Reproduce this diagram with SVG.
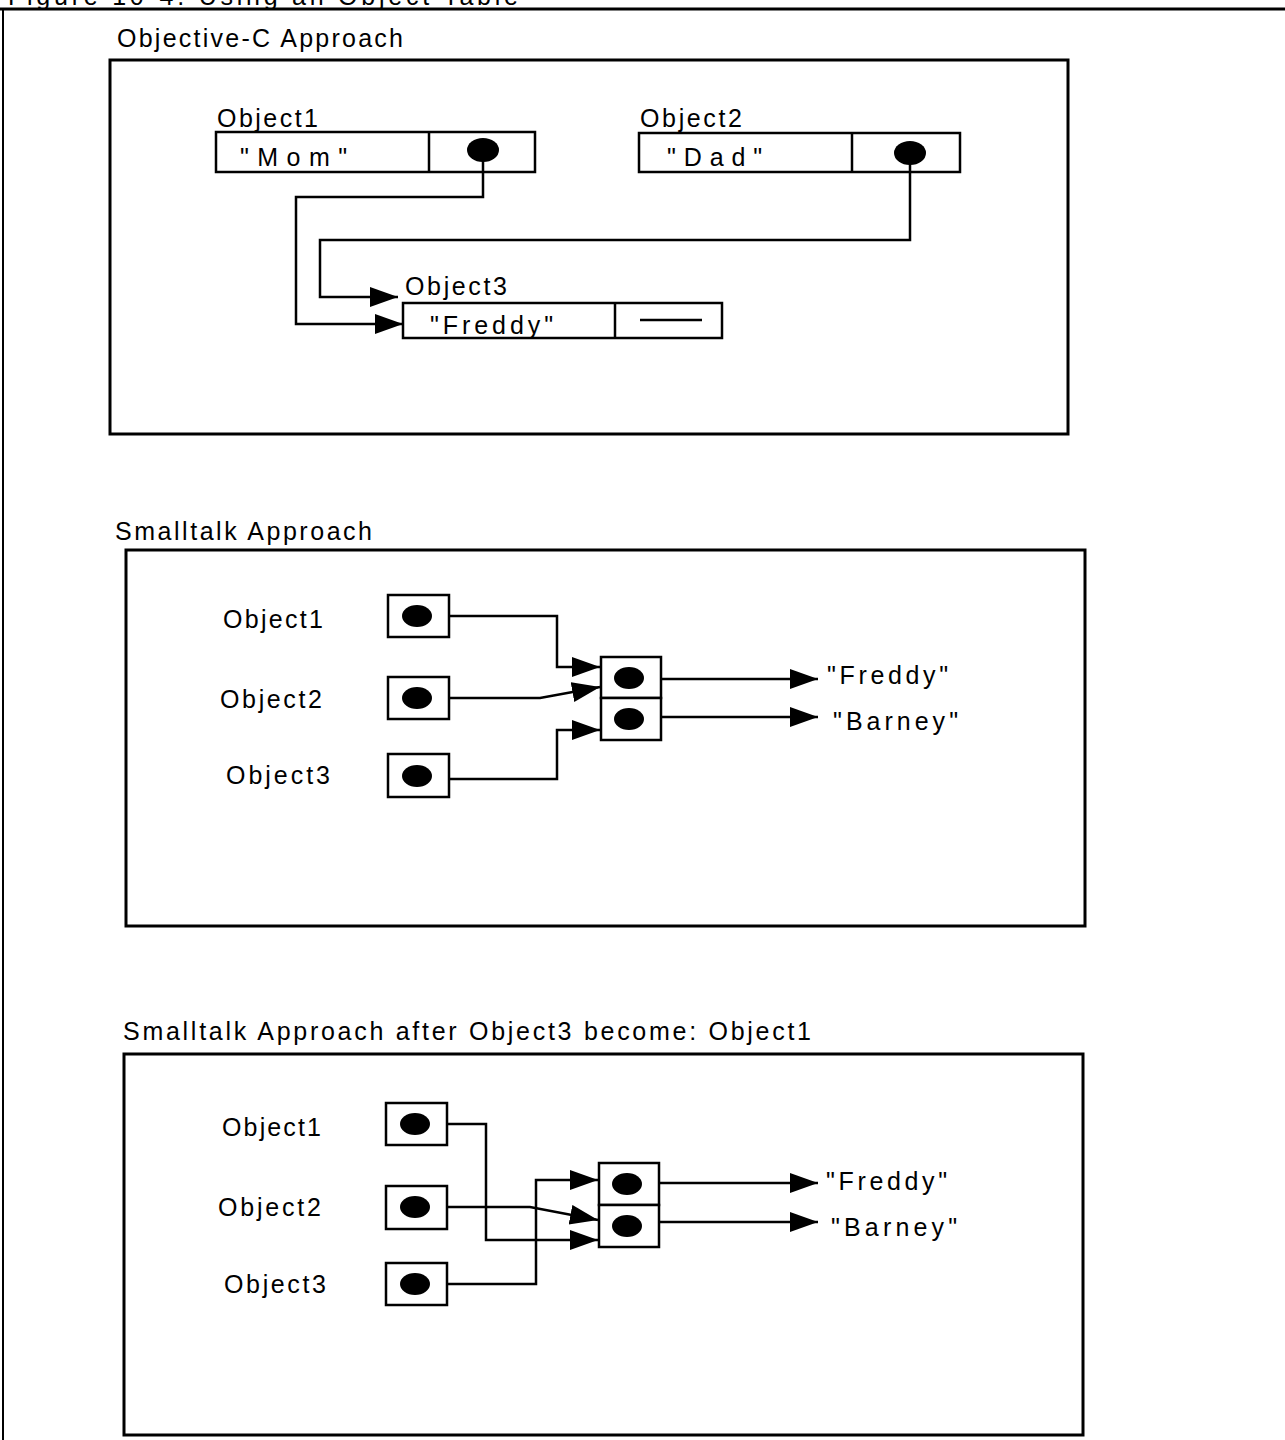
<svg xmlns="http://www.w3.org/2000/svg" width="1285" height="1440" viewBox="0 0 1285 1440">
<style>
text{font-family:"Liberation Sans",Arial,sans-serif;font-size:25px;fill:#000}
.box{fill:none;stroke:#000;stroke-width:3}
.cell{fill:#fff;stroke:#000;stroke-width:2.5}
.dot{fill:#000}
.wire{fill:none;stroke:#000;stroke-width:2.5}
.arr{marker-end:url(#ah)}
</style>
<defs>
<marker id="ah" markerUnits="userSpaceOnUse" markerWidth="30" markerHeight="22" refX="28" refY="10" orient="auto" viewBox="0 0 30 22">
<path d="M0,0 L28,10 L0,20 z" fill="#000"/>
</marker>
</defs>
<rect width="1285" height="1440" fill="#fff"/>

<g id="frame">
<text x="8" y="5" textLength="510" lengthAdjust="spacing">Figure 10-4. Using an Object Table</text>
<line x1="0" y1="9" x2="1285" y2="9" stroke="#000" stroke-width="3"/>
<line x1="3" y1="9" x2="3" y2="1440" stroke="#000" stroke-width="2"/>
</g>

<g id="panel-objc">
<text x="117" y="47" textLength="286" lengthAdjust="spacing">Objective-C  Approach</text>
<rect class="box" x="110" y="60" width="958" height="374"/>
</g>
<g id="objc-object1">
<text x="217" y="127" textLength="101" lengthAdjust="spacing">Object1</text>
<rect class="cell" x="216" y="132" width="319" height="40"/>
<line x1="429" y1="132" x2="429" y2="172" stroke="#000" stroke-width="2.5"/>
<text x="240" y="166" textLength="107" lengthAdjust="spacing">"Mom"</text>
<ellipse class="dot" cx="483" cy="150" rx="16" ry="12"/>
</g>
<g id="objc-object2">
<text x="640" y="127" textLength="102" lengthAdjust="spacing">Object2</text>
<rect class="cell" x="639" y="133" width="321" height="39"/>
<line x1="852" y1="133" x2="852" y2="172" stroke="#000" stroke-width="2.5"/>
<text x="667" y="166" textLength="95" lengthAdjust="spacing">"Dad"</text>
<ellipse class="dot" cx="910" cy="153" rx="16" ry="12"/>
</g>
<g id="objc-object3">
<text x="405" y="295" textLength="102" lengthAdjust="spacing">Object3</text>
<rect class="cell" x="403" y="303" width="319" height="35"/>
<line x1="615" y1="303" x2="615" y2="338" stroke="#000" stroke-width="2.5"/>
<text x="430" y="334" textLength="123" lengthAdjust="spacing">"Freddy"</text>
<line x1="640" y1="320" x2="702" y2="320" stroke="#000" stroke-width="2.5"/>
</g>

<g id="panel-st1">
<text x="115" y="540" textLength="257" lengthAdjust="spacing">Smalltalk  Approach</text>
<rect class="box" x="126" y="550" width="959" height="376"/>
<text x="223" y="628" textLength="100" lengthAdjust="spacing">Object1</text>
<text x="220" y="708" textLength="102" lengthAdjust="spacing">Object2</text>
<text x="226" y="784" textLength="104" lengthAdjust="spacing">Object3</text>
<text x="827" y="684" textLength="121" lengthAdjust="spacing">"Freddy"</text>
<text x="833" y="730" textLength="125" lengthAdjust="spacing">"Barney"</text>
</g>
<g id="st1-ptr1"><rect class="cell" x="388" y="595" width="61" height="42"/><ellipse class="dot" cx="417" cy="616" rx="15" ry="11"/></g>
<g id="st1-ptr2"><rect class="cell" x="388" y="677" width="61" height="42"/><ellipse class="dot" cx="417" cy="698" rx="15" ry="11"/></g>
<g id="st1-ptr3"><rect class="cell" x="388" y="754" width="61" height="43"/><ellipse class="dot" cx="417" cy="776" rx="15" ry="11"/></g>
<g id="st1-table">
<rect class="cell" x="601" y="657" width="60" height="41"/><ellipse class="dot" cx="629" cy="678" rx="15" ry="11"/>
<rect class="cell" x="601" y="698" width="60" height="42"/><ellipse class="dot" cx="629" cy="719" rx="15" ry="11"/>
</g>

<g id="panel-st2">
<text x="123" y="1040" textLength="688" lengthAdjust="spacing">Smalltalk  Approach  after  Object3   become:   Object1</text>
<rect class="box" x="124" y="1054" width="959" height="381"/>
<text x="222" y="1136" textLength="99" lengthAdjust="spacing">Object1</text>
<text x="218" y="1216" textLength="103" lengthAdjust="spacing">Object2</text>
<text x="224" y="1293" textLength="102" lengthAdjust="spacing">Object3</text>
<text x="826" y="1190" textLength="121" lengthAdjust="spacing">"Freddy"</text>
<text x="831" y="1236" textLength="126" lengthAdjust="spacing">"Barney"</text>
</g>
<g id="st2-ptr1"><rect class="cell" x="386" y="1103" width="61" height="42"/><ellipse class="dot" cx="415" cy="1124" rx="15" ry="11"/></g>
<g id="st2-ptr2"><rect class="cell" x="386" y="1186" width="61" height="43"/><ellipse class="dot" cx="415" cy="1207" rx="15" ry="11"/></g>
<g id="st2-ptr3"><rect class="cell" x="386" y="1263" width="61" height="42"/><ellipse class="dot" cx="415" cy="1284" rx="15" ry="11"/></g>
<g id="st2-table">
<rect class="cell" x="599" y="1163" width="60" height="42"/><ellipse class="dot" cx="627" cy="1184" rx="15" ry="11"/>
<rect class="cell" x="599" y="1205" width="60" height="42"/><ellipse class="dot" cx="627" cy="1226" rx="15" ry="11"/>
</g>

<g id="connectors">
<path class="wire arr" d="M483,160 V197 H296 V324 H403"/>
<path class="wire arr" d="M910,163 V240 H320 V297 H398"/>

<path class="wire arr" d="M449,616 H557 V667 H600"/>
<path class="wire arr" d="M449,698 H540 L600,687"/>
<path class="wire arr" d="M449,779 H557 V730 H600"/>
<path class="wire arr" d="M661,679 H818"/>
<path class="wire arr" d="M661,717 H818"/>

<path class="wire arr" d="M447,1124 H486 V1240 H598"/>
<path class="wire arr" d="M447,1207 H530 L598,1220"/>
<path class="wire arr" d="M447,1284 H536 V1180 H598"/>
<path class="wire arr" d="M659,1183 H818"/>
<path class="wire arr" d="M659,1222 H818"/>
</g>
</svg>
